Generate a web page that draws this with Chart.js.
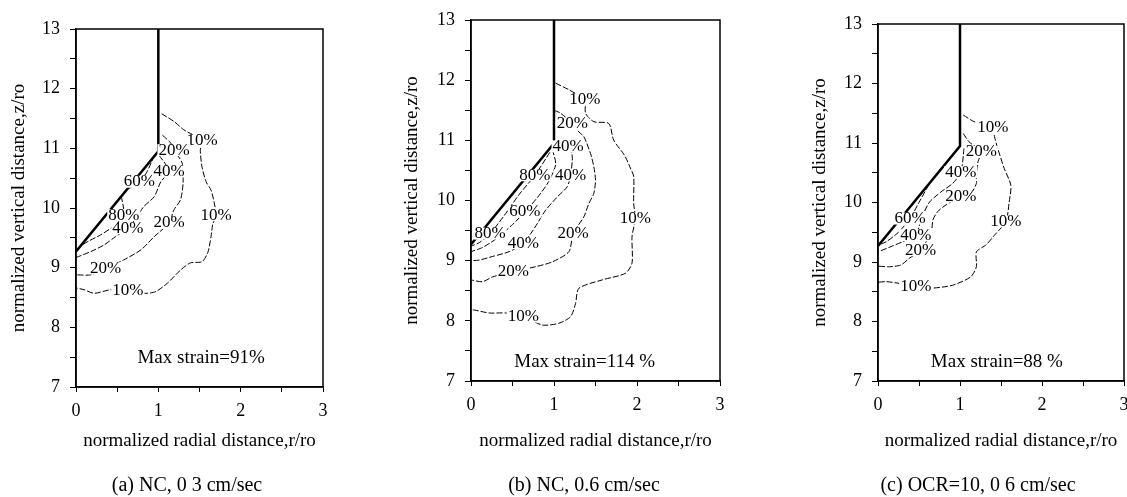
<!DOCTYPE html>
<html>
<head>
<meta charset="utf-8">
<script src="https://cdn.jsdelivr.net/npm/chart.js@4.4.1/dist/chart.umd.min.js"></script>
<style>
body { margin: 0; background: #fff; width: 1127px; height: 497px; overflow: hidden; position: relative; font-family: "Liberation Serif", serif; }
canvas { position: absolute; top: 0; }
.cap { position: absolute; top: 473px; font-size: 20px; line-height: 23px; white-space: nowrap; transform: translateX(-50%); color: #000; }
</style>
</head>
<body>
<canvas id="pa" width="395" height="497" style="left:0px"></canvas>
<canvas id="pb" width="405" height="497" style="left:395px"></canvas>
<canvas id="pc" width="327" height="497" style="left:800px"></canvas>
<div class="cap" style="left:187px">(a) NC, 0 3 cm/sec</div>
<div class="cap" style="left:584px">(b) NC, 0.6 cm/sec</div>
<div class="cap" style="left:978px">(c) OCR=10, 0 6 cm/sec</div>
<script>
// pile outline (same for all three runs)
const pile = [[0, 9.27], [1, 10.95], [1, 13]];

// (a) NC, 0.3 cm/sec
const a10 = [[1.04,11.58],[1.19,11.45],[1.31,11.31],[1.53,11.13],[1.51,10.97],[1.53,10.69],[1.58,10.44],[1.64,10.3],[1.68,10.08],[1.70,9.88],[1.66,9.72],[1.64,9.52],[1.6,9.25],[1.53,9.1],[1.39,9.08],[1.27,8.96],[1.11,8.74],[0.97,8.6],[0.85,8.57],[0.63,8.62],[0.42,8.63],[0.22,8.57],[0.1,8.63],[0,8.66]];
const a20 = [[1.05,11.22],[1.15,11.09],[1.19,10.97],[1.29,10.75],[1.30,10.41],[1.27,10.14],[1.19,9.97],[1.13,9.75],[0.95,9.52],[0.79,9.3],[0.58,9.13],[0.36,8.99],[0.18,8.88],[0,8.88]];
const a40 = [[1.01,10.88],[1.08,10.75],[1.13,10.61],[1.03,10.44],[0.95,10.19],[0.82,10.02],[0.74,9.85],[0.63,9.66],[0.48,9.52],[0.34,9.38],[0.18,9.27],[0,9.17]];
const a60 = [[0.95,10.88],[0.86,10.6],[0.77,10.44],[0.7,10.36],[0.64,10.33]];
const a80 = [[0.55,10.2],[0.58,9.88],[0.44,9.68],[0.3,9.55],[0.16,9.45],[0.05,9.36]];
const aLabels = [[1.53,11.13,'10%'],[1.70,9.88,'10%'],[0.63,8.62,'10%'],[1.19,10.97,'20%'],[1.13,9.75,'20%'],[0.36,8.99,'20%'],[1.13,10.61,'40%'],[0.63,9.66,'40%'],[0.77,10.44,'60%'],[0.58,9.88,'80%']];

// (b) NC, 0.6 cm/sec
const b10 = [[1.02,11.95],[1.18,11.84],[1.37,11.67],[1.38,11.45],[1.48,11.31],[1.66,11.28],[1.72,11.0],[1.85,10.75],[1.92,10.54],[1.96,10.4],[1.96,9.95],[1.98,9.7],[1.94,9.4],[1.94,8.96],[1.86,8.79],[1.58,8.68],[1.30,8.54],[1.26,8.29],[1.2,8.07],[1.06,7.96],[0.86,7.93],[0.63,8.07],[0.42,8.13],[0.22,8.13],[0.04,8.18],[0,8.18]];
const b20 = [[1.0,11.5],[1.08,11.45],[1.22,11.28],[1.30,11.14],[1.36,11.06],[1.44,10.78],[1.48,10.56],[1.50,10.34],[1.48,10.12],[1.42,9.95],[1.36,9.73],[1.23,9.45],[1.18,9.15],[0.98,8.98],[0.78,8.9],[0.51,8.82],[0.26,8.73],[0.14,8.65],[0,8.68]];
const b40 = [[1.0,10.98],[1.17,10.9],[1.22,10.73],[1.2,10.42],[1.16,10.23],[1.04,10.06],[0.9,9.84],[0.8,9.62],[0.72,9.45],[0.63,9.29],[0.46,9.15],[0.26,9.07],[0.1,9.01],[0,9.0]];
const b60 = [[0.98,10.85],[1.02,10.6],[0.93,10.3],[0.8,10.05],[0.65,9.81],[0.5,9.6],[0.32,9.38],[0.14,9.22],[0,9.15]];
const b80 = [[0.95,10.8],[0.77,10.42],[0.58,10.1],[0.4,9.75],[0.23,9.45],[0.1,9.3],[0,9.24]];
const bLabels = [[1.37,11.67,'10%'],[1.98,9.7,'10%'],[0.63,8.07,'10%'],[1.22,11.28,'20%'],[1.23,9.45,'20%'],[0.51,8.82,'20%'],[1.17,10.9,'40%'],[1.2,10.42,'40%'],[0.63,9.29,'40%'],[0.65,9.81,'60%'],[0.77,10.42,'80%'],[0.23,9.45,'80%']];

// (c) OCR=10, 0.6 cm/sec
const c10 = [[1.04,11.47],[1.17,11.36],[1.40,11.26],[1.42,11.11],[1.46,10.91],[1.54,10.57],[1.62,10.29],[1.60,10.01],[1.56,9.68],[1.42,9.45],[1.32,9.29],[1.20,9.17],[1.20,8.92],[1.13,8.75],[0.91,8.61],[0.65,8.56],[0.46,8.58],[0.26,8.64],[0.1,8.67],[0,8.66]];
const c20 = [[1.04,11.16],[1.11,11.02],[1.26,10.85],[1.22,10.69],[1.20,10.43],[1.20,10.32],[1.13,10.15],[1.01,10.1],[0.83,9.96],[0.73,9.85],[0.67,9.71],[0.65,9.51],[0.52,9.2],[0.38,9.06],[0.28,8.95],[0.14,8.92],[0,8.93]];
const c40 = [[1.05,10.91],[1.01,10.51],[0.91,10.32],[0.77,10.18],[0.63,10.01],[0.55,9.8],[0.5,9.6],[0.46,9.45],[0.3,9.34],[0.16,9.26],[0,9.17]];
const c60 = [[0.62,10.3],[0.5,10.0],[0.39,9.73],[0.25,9.5],[0.1,9.34],[0.03,9.3]];
const cLabels = [[1.40,11.26,'10%'],[1.56,9.68,'10%'],[0.46,8.58,'10%'],[1.26,10.85,'20%'],[1.01,10.1,'20%'],[0.52,9.2,'20%'],[1.01,10.51,'40%'],[0.46,9.45,'40%'],[0.39,9.73,'60%']];

const maxStrain = [[1.52, 7.49, 'Max strain=91%'], [1.37, 7.32, 'Max strain=114 %'], [1.45, 7.32, 'Max strain=88 %']];

const FONT = '"Liberation Serif", "Times New Roman", serif';

const framePlugin = {
    id: 'frame',
    afterDraw(chart) {
        const { ctx, chartArea: a } = chart;
        ctx.save();
        ctx.strokeStyle = '#000';
        ctx.lineWidth = 1.5;
        ctx.strokeRect(a.left, a.top, a.right - a.left, a.bottom - a.top);
        ctx.restore();
    }
};

function textPlugin(labels, note) {
    return {
        id: 'contourText',
        afterDatasetsDraw(chart) {
            const { ctx, scales: { x, y } } = chart;
            ctx.save();
            ctx.textAlign = 'center';
            ctx.textBaseline = 'middle';
            ctx.font = '17px ' + FONT;
            labels.forEach(([lx, ly, t]) => {
                const px = x.getPixelForValue(lx), py = y.getPixelForValue(ly);
                const w = ctx.measureText(t).width;
                ctx.fillStyle = '#fff';
                ctx.fillRect(px - w / 2 - 1, py - 6, w + 2, 12);
                ctx.fillStyle = '#000';
                ctx.fillText(t, px, py);
            });
            ctx.font = '19px ' + FONT;
            ctx.fillText(note[2], x.getPixelForValue(note[0]), y.getPixelForValue(note[1]));
            ctx.restore();
        }
    };
}

function line(pts, pileLine) {
    return {
        data: pts.map(([x, y]) => ({ x, y })),
        showLine: true,
        pointRadius: 0,
        borderColor: '#000',
        borderWidth: pileLine ? 2.5 : 1,
        borderDash: pileLine ? [] : [6, 2],
        tension: pileLine ? 0 : 0.25
    };
}

function makePanel(id, g, contours, labels, note) {
    const tickFont = { family: FONT, size: 18 };
    const titleFont = { family: FONT, size: 19 };
    new Chart(document.getElementById(id), {
        type: 'scatter',
        data: { datasets: [line(pile, true), ...contours.map(c => line(c, false))] },
        options: {
            responsive: false,
            animation: false,
            devicePixelRatio: 1,
            layout: { padding: { left: 0, top: g.top, right: g.right, bottom: g.bottom } },
            plugins: { legend: { display: false }, tooltip: { enabled: false } },
            scales: {
                x: {
                    type: 'linear', min: 0, max: 3,
                    ticks: {
                        stepSize: 0.5, autoSkip: false, maxRotation: 0, color: '#000', font: tickFont, padding: 8,
                        callback: v => Number.isInteger(v) ? String(v) : ''
                    },
                    grid: { drawOnChartArea: false, tickLength: 5, color: '#000' },
                    border: { color: '#000', width: 1.5 },
                    title: { display: true, text: 'normalized radial distance,r/ro', color: '#000', font: titleFont, padding: { top: 0, bottom: g.xPad } },
                    afterFit(s) { s.height = 80; s.paddingLeft = s.paddingRight = s.paddingTop = s.paddingBottom = 0; }
                },
                y: {
                    type: 'linear', min: 7, max: 13,
                    ticks: {
                        stepSize: 0.5, autoSkip: false, color: '#000', font: tickFont, padding: 10,
                        callback: v => Number.isInteger(v) ? String(v) : ''
                    },
                    grid: { drawOnChartArea: false, tickLength: 6, color: '#000' },
                    border: { color: '#000', width: 1.5 },
                    title: { display: true, text: 'normalized vertical distance,z/ro', color: '#000', font: titleFont, padding: { top: g.yPad, bottom: 0 } },
                    afterFit(s) { s.width = g.yw; s.paddingLeft = s.paddingRight = s.paddingTop = s.paddingBottom = 0; }
                }
            }
        },
        plugins: [framePlugin, textPlugin(labels, note)]
    });
}

makePanel('pa', { top: 29, right: 72, bottom: 30, yw: 76, xPad: 14.6, yPad: 7.6 }, [a10, a20, a40, a60, a80], aLabels, maxStrain[0]);
makePanel('pb', { top: 20, right: 80, bottom: 36, yw: 76, xPad: 8.6, yPad: 5.6 }, [b10, b20, b40, b60, b80], bLabels, maxStrain[1]);
makePanel('pc', { top: 24, right: 3, bottom: 36, yw: 78, xPad: 8.6, yPad: 8.6 }, [c10, c20, c40, c60], cLabels, maxStrain[2]);
</script>
</body>
</html>
